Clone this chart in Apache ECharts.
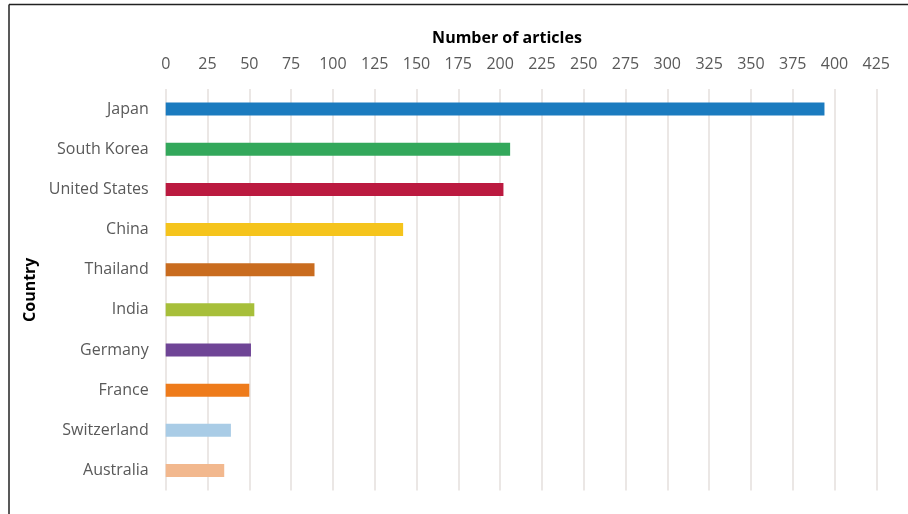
<!DOCTYPE html>
<html>
<head>
<meta charset="utf-8">
<script src="https://cdn.jsdelivr.net/npm/echarts@6/dist/echarts.min.js"></script>
<style>html,body{margin:0;padding:0;background:#fff;}#c{width:908px;height:514px;}</style>
</head>
<body>
<div id="c"></div>
<script>
const countries = ["Japan","South Korea","United States","China","Thailand","India","Germany","France","Switzerland","Australia"];
const articles = [394, 206, 202, 142, 89, 53, 51, 50, 39, 35];
const barColors = ["#1b7bbf","#33a85b","#bb1a40","#f5c41c","#c96c1f","#a7bf3a","#6f4596","#ee7b1b","#a9cce6","#f2b88e"];
const xTicks = {min: 0, max: 425, step: 25};

const chart = echarts.init(document.getElementById('c'), null, {renderer: 'canvas'});
const font = '"Open Sans", Lato, sans-serif';
chart.setOption({
  backgroundColor: '#fff',
  animation: false,
  grid: {left: 165.7, right: 31.7, top: 89, bottom: 23.5, containLabel: false},
  xAxis: {
    type: 'value', position: 'top',
    min: xTicks.min, max: xTicks.max, interval: xTicks.step,
    name: 'Number of articles', nameLocation: 'middle', nameGap: 43,
    nameTextStyle: {fontFamily: font, fontSize: 16, fontWeight: 'bold', color: '#000', padding: [0, 28, 0, 0]},
    axisLine: {show: false}, axisTick: {show: false},
    axisLabel: {fontFamily: font, fontSize: 16, color: '#595959', margin: 17},
    splitLine: {show: true, lineStyle: {color: '#e4dfdc', width: 1.5}}
  },
  yAxis: {
    type: 'category', data: countries, inverse: true,
    name: 'Country', nameLocation: 'middle', nameGap: 127, nameRotate: 90,
    nameTextStyle: {fontFamily: font, fontSize: 16, fontWeight: 'bold', color: '#000'},
    axisLine: {show: false}, axisTick: {show: false},
    axisLabel: {fontFamily: font, fontSize: 16, color: '#595959', margin: 17},
    splitLine: {show: false}
  },
  series: [{
    type: 'bar', barWidth: 13,
    data: articles.map((v, i) => ({value: v, itemStyle: {color: barColors[i]}}))
  }],
  graphic: [
    {type: 'line', shape: {x1: 9, y1: 4.5, x2: 908, y2: 4.5}, style: {stroke: '#222', lineWidth: 1.5}},
    {type: 'line', shape: {x1: 9, y1: 4.5, x2: 9, y2: 514}, style: {stroke: '#222', lineWidth: 1.5}}
  ]
});
</script>
</body>
</html>
